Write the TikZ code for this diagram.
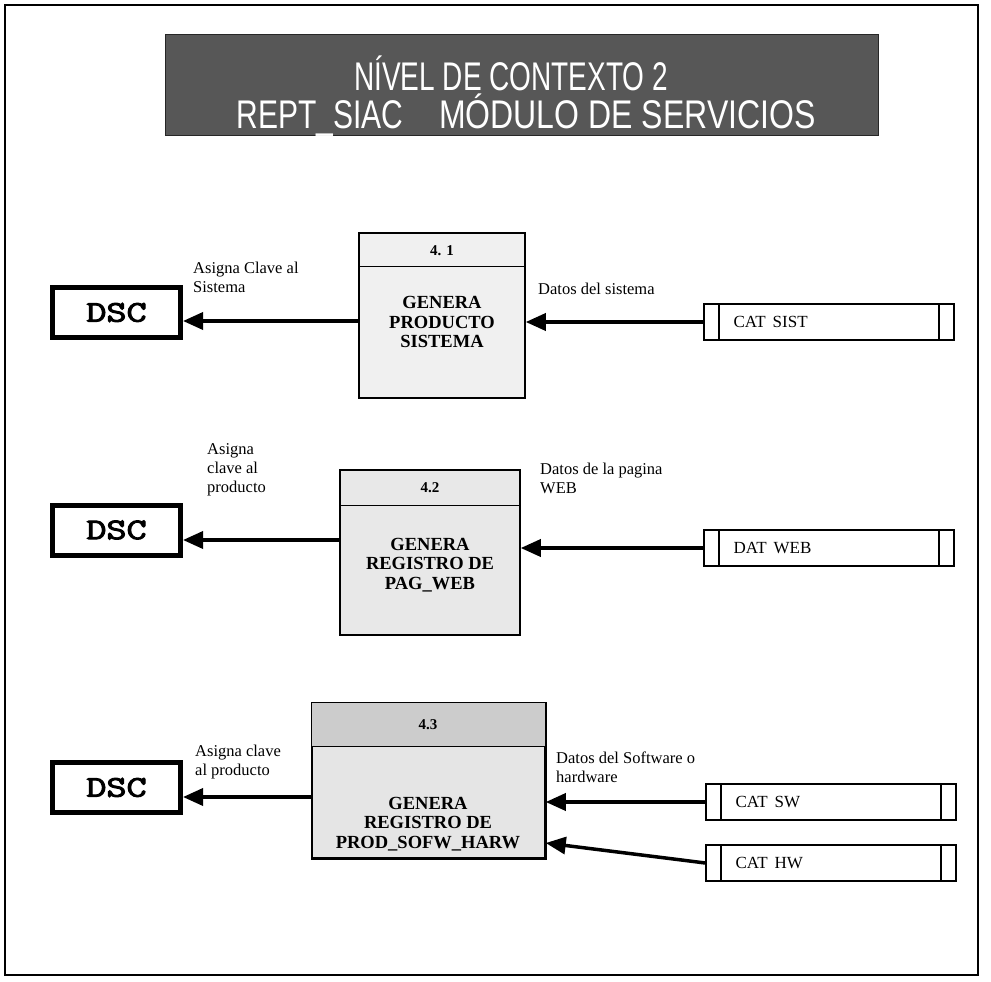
\documentclass[tikz,border=0pt]{standalone}
\usepackage{fontspec}
\usepackage{graphicx}
\setmainfont{Liberation Serif}
\newfontfamily\dscf{Latin Modern Mono}[FakeBold=3]
\newfontfamily\narrowf{Liberation Sans}
\usetikzlibrary{arrows.meta}
\begin{document}
\begin{tikzpicture}[x=1pt,y=-1pt,
  frame/.style={draw, line width=2pt},
  banner/.style={fill=black!66, draw=black!85, line width=1pt, inner sep=0},
  titletext/.style={text=white, font=\narrowf\fontsize{40}{44}\selectfont, inner sep=0},
  dscbox/.style={draw, line width=5pt, minimum width=128, minimum height=50, inner sep=0, font=\dscf\fontsize{30}{32}\selectfont},
  proc/.style={draw, line width=1.5pt, fill=black!6, inner sep=0},
  pnum/.style={font=\bfseries\fontsize{15}{18}\selectfont, inner sep=0},
  ptext/.style={font=\bfseries\fontsize{18.5}{19.5}\selectfont, align=center, inner sep=0},
  store/.style={draw, line width=1.2pt, minimum width=250, minimum height=36, inner sep=0,
    path picture={
      \draw[line width=1.2pt] ([xshift=15pt]path picture bounding box.north west) -- ([xshift=15pt]path picture bounding box.south west);
      \draw[line width=1.2pt] ([xshift=-15pt]path picture bounding box.north east) -- ([xshift=-15pt]path picture bounding box.south east);}},
  storetext/.style={font=\fontsize{17}{20}\selectfont, anchor=west, inner sep=0},
  lbl/.style={font=\fontsize{16.5}{19}\selectfont, align=left, anchor=north west, inner sep=0},
  flow/.style={line width=3.5pt, -{Triangle[length=20pt,width=17pt]}},
  divider/.style={line width=1.5pt},
]
\useasboundingbox (0,0) rectangle (991,982);
\draw[frame] (5,5) rectangle (978,975);

% title banner
\node[banner, minimum width=713, minimum height=100] (ban) at (521.5,85) {};
\node[titletext] (t1) at (511,73) {\scalebox{0.7}[1]{NÍVEL DE CONTEXTO 2}};
\node[titletext] (t2) at (526,115) {\scalebox{0.75}[1]{REPT\_SIAC}\hspace{36pt}\scalebox{0.8}[1]{MÓDULO DE SERVICIOS}};

% ---------- row 1 ----------
\node[dscbox] (dsc1) at (116.5,312.5) {\scalebox{1.3}[1]{DSC}};
\node[proc, minimum width=166, minimum height=165] (p1) at (442,315.5) {};
\draw[divider] ([yshift=-34pt]p1.north west) -- ([yshift=-34pt]p1.north east);
\node[pnum] (n1) at (442,251) {4. 1};
\node[ptext] (b1) at (442,322) {GENERA\\PRODUCTO\\SISTEMA};
\node[store] (s1) at (829,322) {};
\node[storetext] (st1) at ([xshift=30pt]s1.west) {CAT\hspace{7pt}SIST};
\coordinate (a1) at (0,321);
\draw[flow] (p1.west |- a1) -- (dsc1.east |- a1);
\draw[flow] (s1.west) -- (p1.east |- s1.west);
\node[lbl] (l1) at (193,262) {Asigna Clave al\\Sistema};
\node[lbl] (r1) at (538,283) {Datos del sistema};

% ---------- row 2 ----------
\node[dscbox] (dsc2) at (116.5,530) {\scalebox{1.3}[1]{DSC}};
\node[proc, minimum width=180, minimum height=165, fill=black!9] (p2) at (430,552.5) {};
\draw[divider] ([yshift=-36pt]p2.north west) -- ([yshift=-36pt]p2.north east);
\node[pnum] (n2) at (430,488) {4.2};
\node[ptext] (b2) at (430,565) {GENERA\\REGISTRO DE\\PAG\_WEB};
\node[store] (s2) at (829,548) {};
\node[storetext] (st2) at ([xshift=30pt]s2.west) {DAT\hspace{7pt}WEB};
\coordinate (a2) at (0,540);
\draw[flow] (p2.west |- a2) -- (dsc2.east |- a2);
\draw[flow] (s2.west) -- (p2.east |- s2.west);
\node[lbl] (l2) at (207,443) {Asigna\\clave al\\producto};
\node[lbl] (r2) at (540,463) {Datos de la pagina\\WEB};

% ---------- row 3 ----------
\node[dscbox] (dsc3) at (116.5,787.5) {\scalebox{1.3}[1]{DSC}};
\node[proc, minimum width=233, minimum height=155, fill=black!10] (p3) at (428.5,780.5) {};
\fill[black!20] ([shift={(0.75pt,-0.75pt)}]p3.north west) rectangle ([yshift=-44pt,xshift=-0.75pt]p3.north east);
\draw[line width=1.5pt] (p3.north west) rectangle (p3.south east);
\draw[divider] ([yshift=-44pt]p3.north west) -- ([yshift=-44pt]p3.north east);
\node[pnum] (n3) at (428,725) {4.3};
\node[ptext] (b3) at (428,824) {GENERA\\REGISTRO DE\\PROD\_SOFW\_HARW};
\node[store] (s3) at (831,802) {};
\node[storetext] (st3) at ([xshift=30pt]s3.west) {CAT\hspace{7pt}SW};
\node[store] (s4) at (831,863) {};
\node[storetext] (st4) at ([xshift=30pt]s4.west) {CAT\hspace{7pt}HW};
\coordinate (a3) at (0,797);
\coordinate (a4) at (0,843);
\draw[flow] (p3.west |- a3) -- (dsc3.east |- a3);
\draw[flow] (s3.west) -- (p3.east |- s3.west);
\draw[flow] (s4.west) -- (p3.east |- a4);
\node[lbl] (l3) at (195,745) {Asigna clave\\al producto};
\node[lbl] (r3) at (556,752) {Datos del Software o\\hardware};
\end{tikzpicture}
\end{document}
